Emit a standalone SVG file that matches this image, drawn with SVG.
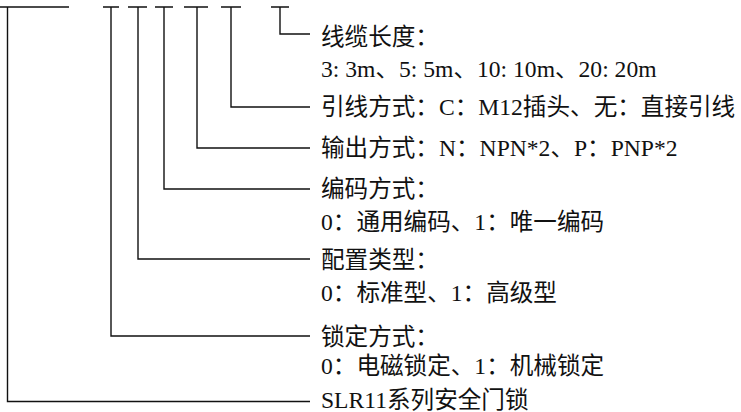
<svg xmlns="http://www.w3.org/2000/svg" width="741" height="412" viewBox="0 0 741 412">
<style>
.c{fill:none;stroke:#111;stroke-width:1.4}
.t{font-family:"Liberation Serif","Noto Sans CJK SC",serif;font-size:23.6px;fill:#111}
</style>
<rect width="741" height="412" fill="#fff"/>
<g id="connectors" class="c">
<path d="M0 7H69M7.5 7V401.5H310"/>
<path d="M103 7H119M111 7V336H310"/>
<path d="M128 7H147M138 7V259H310"/>
<path d="M155 7H173M164 7V189H310"/>
<path d="M184 7H208M197 7V148H310"/>
<path d="M221 7H241M231 7V107H310"/>
<path d="M271 7H289M280 7V34H310"/>
</g>
<g id="cable" class="t">
<text x="321" y="45">线缆长度：</text>
<text x="321" y="77">3: 3m、5: 5m、10: 10m、20: 20m</text>
</g>
<g id="lead" class="t"><text x="321" y="115">引线方式：C：M12插头、无：直接引线</text></g>
<g id="output" class="t"><text x="321" y="156">输出方式：N：NPN*2、P：PNP*2</text></g>
<g id="coding" class="t">
<text x="321" y="197">编码方式：</text>
<text x="321" y="230">0：通用编码、1：唯一编码</text>
</g>
<g id="config" class="t">
<text x="321" y="268">配置类型：</text>
<text x="321" y="301">0：标准型、1：高级型</text>
</g>
<g id="lock" class="t">
<text x="321" y="345">锁定方式：</text>
<text x="321" y="374">0：电磁锁定、1：机械锁定</text>
</g>
<g id="series" class="t"><text x="321" y="408">SLR11系列安全门锁</text></g>
</svg>
